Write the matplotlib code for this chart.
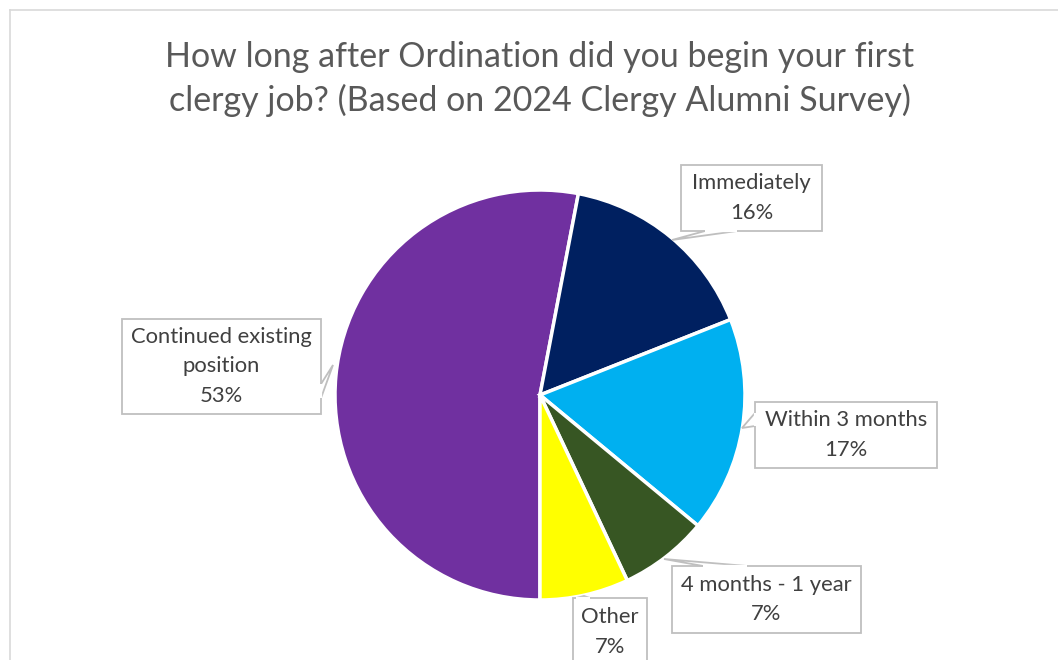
import matplotlib
matplotlib.use("Agg")
import matplotlib.pyplot as plt
from matplotlib.patches import Polygon, Rectangle

categories = ["Continued existing\nposition", "Immediately", "Within 3 months", "4 months - 1 year", "Other"]
values = [53, 16, 17, 7, 7]
colors = ["#7030A0", "#002060", "#00B0F0", "#375623", "#FFFF00"]
title = "How long after Ordination did you begin your first\nclergy job? (Based on 2024 Clergy Alumni Survey)"

W, H = 1058, 660
fig = plt.figure(figsize=(W / 100, H / 100), dpi=100)
ax = fig.add_axes([0, 0, 1, 1])

def py(y):
    return H - y

cx, cy, R = 540, 395, 205
ax.pie(values, colors=colors, startangle=-90, counterclock=False,
       center=(cx, py(cy)), radius=R, frame=True,
       wedgeprops=dict(edgecolor="white", linewidth=2.5))

ax.set_xlim(0, W)
ax.set_ylim(0, H)
ax.set_aspect("equal")
ax.axis("off")

# chart border
ax.plot([10, 10], [py(660), py(10)], color="#D9D9D9", lw=1.2)
ax.plot([10, W], [py(10), py(10)], color="#D9D9D9", lw=1.2)

fam = ["Lato", "DejaVu Sans"]
ax.text(540, py(79), title, ha="center", va="center", fontsize=24.5,
        color="#595959", family=fam, linespacing=1.42)

# callout boxes: (x0, y0, x1, y1), tip, base points
boxes = [
    ((122, 319, 321, 414), (333, 365), [(321, 384), (321, 398)]),
    ((681, 165, 822, 231), (672, 240), [(705, 231), (737, 231)]),
    ((755, 402, 937, 468), (742, 428), [(755, 413), (755, 426)]),
    ((672, 566, 861, 633), (664, 559), [(703, 566), (747, 566)]),
    ((573, 598, 647, 690), (584, 596), [(576, 598), (590, 598)]),
]
for (cat, val, (b, tip, base)) in zip(categories, values, boxes):
    x0, y0, x1, y1 = b
    ax.add_patch(Rectangle((x0, py(y1)), x1 - x0, y1 - y0, facecolor="white",
                           edgecolor="#BFBFBF", lw=1.3, zorder=5))
    poly = Polygon([(base[0][0], py(base[0][1])), (tip[0], py(tip[1])),
                    (base[1][0], py(base[1][1]))], closed=False,
                   facecolor="white", edgecolor="#BFBFBF", lw=1.3, zorder=6)
    ax.add_patch(poly)
    ax.plot([base[0][0], base[1][0]], [py(base[0][1]), py(base[1][1])],
            color="white", lw=1.6, zorder=7, solid_capstyle="butt")
    ty = (y0 + y1) / 2 if y1 <= H else 632
    ax.text((x0 + x1) / 2, py(ty), f"{cat}\n{val}%", ha="center", va="center",
            fontsize=15.8, color="#404040", family=fam, linespacing=1.58, zorder=8)

fig.savefig("out.png", dpi=100)
